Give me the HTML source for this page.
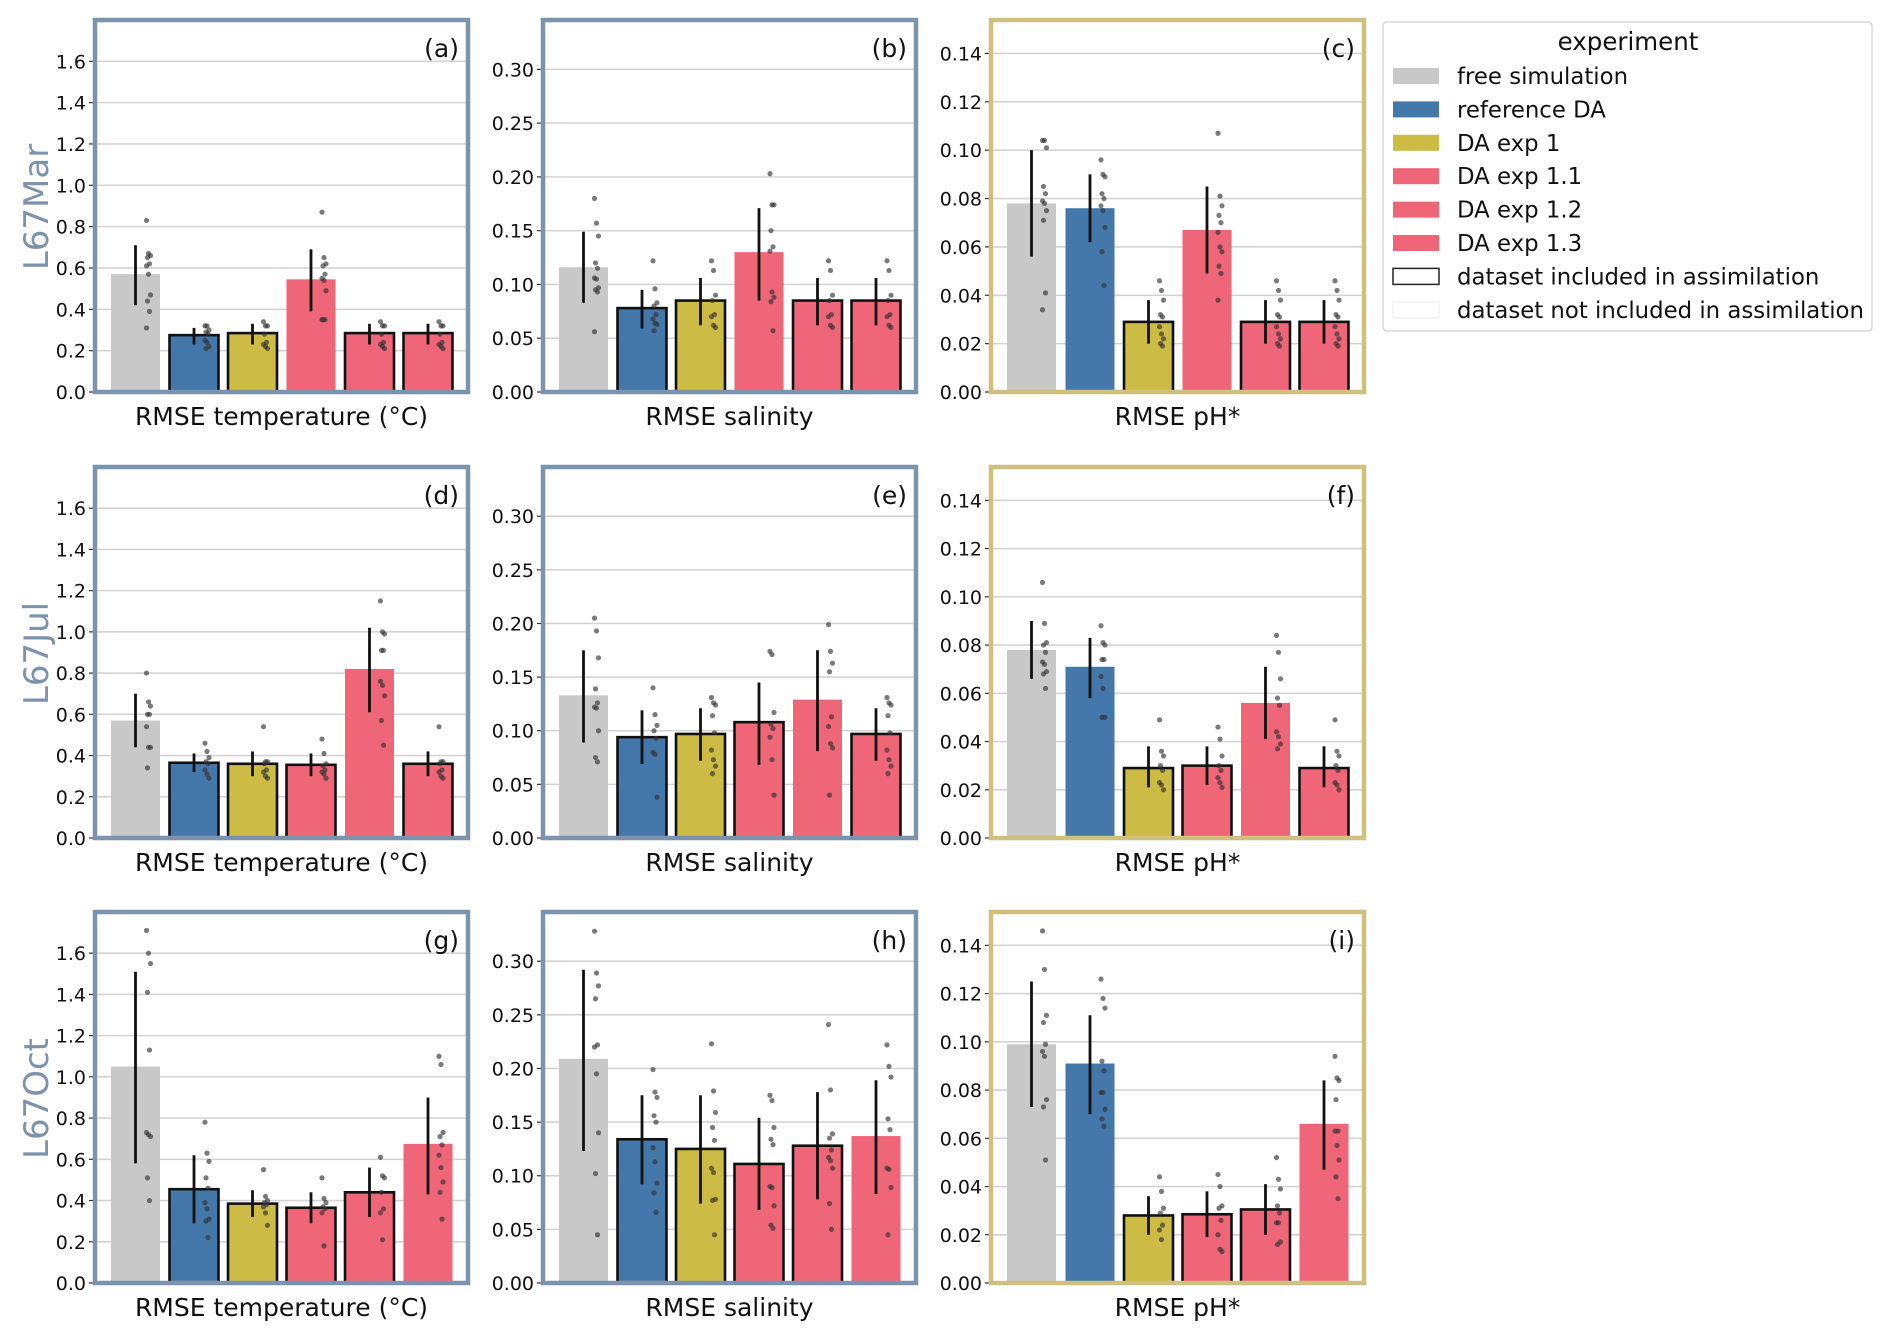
<!DOCTYPE html>
<html><head><meta charset="utf-8">
<style>
html,body{margin:0;padding:0;background:#fff;}
svg{display:block;font-family:"DejaVu Sans","Liberation Sans",sans-serif;}
</style></head>
<body>
<svg id="chart" width="1892" height="1338" viewBox="0 0 1892 1338" xmlns="http://www.w3.org/2000/svg">
<g id="panels"></g>
<g id="legend">
  <rect x="1383" y="22" width="489" height="309" rx="4" fill="#fff" stroke="#d8d8d8" stroke-width="1.5"/>
  <text x="1628" y="50" font-size="24.5" text-anchor="middle" fill="#111">experiment</text>
</g>
</svg>
<script>
const categories = ["free simulation","reference DA","DA exp 1","DA exp 1.1","DA exp 1.2","DA exp 1.3"];
const colors = ["#c8c8c8","#4477aa","#ccbb44","#ee6677","#ee6677","#ee6677"];
const rowLabels = ["L67Mar","L67Jul","L67Oct"];
const colLabels = ["RMSE temperature (°C)","RMSE salinity","RMSE pH*"];
const panelLetters = ["(a)","(b)","(c)","(d)","(e)","(f)","(g)","(h)","(i)"];
const axisMax = [1.79, 0.344, 0.153];
const tickTemp = [0,0.2,0.4,0.6,0.8,1.0,1.2,1.4,1.6];
const tickSal = [0,0.05,0.10,0.15,0.20,0.25,0.30];
const tickPH = [0,0.02,0.04,0.06,0.08,0.10,0.12,0.14];
const tickDigits = [1,2,2];

const valuesA = [0.57,0.275,0.285,0.545,0.285,0.285];
const valuesB = [0.116,0.078,0.085,0.13,0.085,0.085];
const valuesC = [0.078,0.076,0.029,0.067,0.029,0.029];
const valuesD = [0.57,0.365,0.36,0.355,0.82,0.36];
const valuesE = [0.133,0.094,0.097,0.108,0.129,0.097];
const valuesF = [0.078,0.071,0.029,0.030,0.056,0.029];
const valuesG = [1.05,0.455,0.385,0.365,0.44,0.675];
const valuesH = [0.209,0.134,0.125,0.111,0.128,0.137];
const valuesI = [0.099,0.091,0.028,0.0285,0.0305,0.066];

const errA = [[0.42,0.71],[0.23,0.31],[0.23,0.33],[0.39,0.69],[0.23,0.33],[0.23,0.33]];
const errB = [[0.083,0.149],[0.059,0.095],[0.062,0.106],[0.085,0.171],[0.062,0.106],[0.062,0.106]];
const errC = [[0.056,0.100],[0.062,0.090],[0.020,0.038],[0.049,0.085],[0.020,0.038],[0.020,0.038]];
const errD = [[0.44,0.70],[0.32,0.41],[0.30,0.42],[0.30,0.41],[0.61,1.02],[0.30,0.42]];
const errE = [[0.089,0.175],[0.069,0.119],[0.072,0.121],[0.068,0.145],[0.081,0.175],[0.072,0.121]];
const errF = [[0.066,0.090],[0.058,0.083],[0.021,0.038],[0.022,0.038],[0.041,0.071],[0.021,0.038]];
const errG = [[0.58,1.51],[0.29,0.62],[0.32,0.45],[0.29,0.44],[0.32,0.56],[0.43,0.90]];
const errH = [[0.123,0.292],[0.092,0.175],[0.074,0.175],[0.068,0.154],[0.078,0.178],[0.083,0.189]];
const errI = [[0.073,0.125],[0.070,0.111],[0.020,0.036],[0.019,0.038],[0.020,0.041],[0.047,0.084]];

const dotsA = [[.83,.67,.66,.65,.62,.61,.57,.47,.44,.39,.31],[.32,.32,.30,.29,.28,.25,.24,.22,.21],[.34,.32,.32,.28,.24,.23,.22,.21],[.87,.65,.62,.61,.57,.55,.54,.49,.35,.35,.35],[.34,.32,.32,.28,.24,.23,.22,.21],[.34,.32,.32,.28,.24,.23,.22,.21]];
const dotsB = [[.18,.157,.145,.12,.115,.106,.105,.097,.095,.093,.056],[.122,.096,.083,.08,.072,.068,.064,.063,.057],[.122,.113,.09,.085,.072,.07,.062,.06],[.203,.174,.174,.15,.135,.131,.093,.088,.084,.057],[.122,.113,.09,.085,.072,.07,.062,.06],[.122,.113,.09,.085,.072,.07,.062,.06]];
const dotsC = [[.104,.104,.101,.085,.082,.079,.078,.075,.071,.041,.034],[.096,.09,.089,.082,.080,.077,.075,.068,.058,.044],[.046,.042,.038,.032,.031,.027,.024,.022,.020,.019],[.107,.081,.077,.073,.070,.066,.060,.058,.052,.049,.038],[.046,.042,.038,.032,.031,.027,.024,.022,.020,.019],[.046,.042,.038,.032,.031,.027,.024,.022,.020,.019]];
const dotsD = [[.80,.66,.64,.60,.60,.54,.44,.44,.34],[.46,.42,.39,.37,.36,.33,.31,.29],[.54,.37,.37,.36,.33,.32,.30,.29],[.48,.41,.36,.35,.33,.32,.31,.29],[1.15,1.0,.99,.91,.91,.76,.74,.69,.57,.45],[.54,.37,.37,.36,.33,.32,.30,.29]];
const dotsE = [[.205,.193,.168,.139,.126,.122,.121,.1,.075,.071],[.14,.115,.105,.1,.093,.08,.078,.038],[.131,.126,.124,.114,.098,.082,.073,.067,.06],[.174,.171,.117,.106,.102,.094,.073,.04],[.199,.174,.163,.155,.113,.104,.088,.084,.04],[.131,.126,.124,.114,.098,.082,.073,.067,.06]];
const dotsF = [[.106,.089,.081,.080,.077,.073,.072,.069,.068,.062],[.088,.081,.080,.074,.074,.067,.062,.050,.050],[.049,.036,.034,.030,.028,.023,.022,.020],[.046,.041,.034,.030,.028,.025,.023,.021],[.084,.077,.066,.058,.055,.044,.042,.039,.037],[.049,.036,.034,.030,.028,.023,.022,.020]];
const dotsG = [[1.71,1.60,1.55,1.41,1.13,.73,.72,.71,.51,.40],[.78,.63,.59,.51,.46,.39,.36,.31,.30,.22],[.55,.42,.40,.39,.38,.37,.34,.28],[.51,.41,.39,.37,.36,.34,.18],[.61,.52,.51,.44,.36,.34,.21],[1.1,1.06,.73,.71,.67,.62,.56,.49,.44,.31]];
const dotsH = [[.328,.289,.277,.265,.222,.22,.195,.14,.102,.045],[.199,.178,.173,.156,.15,.126,.113,.093,.084,.066],[.223,.179,.159,.145,.133,.107,.103,.078,.077,.045],[.175,.17,.145,.134,.129,.09,.089,.072,.054,.051],[.241,.18,.139,.135,.124,.117,.114,.107,.074,.05],[.222,.202,.192,.153,.143,.107,.106,.089,.045]];
const dotsI = [[.146,.130,.111,.108,.099,.096,.094,.076,.073,.051],[.126,.118,.114,.092,.088,.079,.079,.072,.068,.065],[.044,.038,.031,.029,.024,.022,.018],[.045,.040,.032,.031,.026,.020,.014,.013],[.052,.043,.039,.032,.029,.025,.025,.017,.016],[.094,.085,.084,.076,.063,.063,.057,.051,.044,.035]];

const includedA = [0,1,1,0,1,1], includedB = [0,1,1,0,1,1], includedC = [0,0,1,0,1,1];
const includedD = [0,1,1,1,0,1], includedE = [0,1,1,1,0,1], includedF = [0,0,1,1,0,1];
const includedG = [0,1,1,1,1,0], includedH = [0,1,1,1,1,0], includedI = [0,0,1,1,1,0];

const allValues = [valuesA,valuesB,valuesC,valuesD,valuesE,valuesF,valuesG,valuesH,valuesI];
const allErr = [errA,errB,errC,errD,errE,errF,errG,errH,errI];
const allDots = [dotsA,dotsB,dotsC,dotsD,dotsE,dotsF,dotsG,dotsH,dotsI];
const allIncl = [includedA,includedB,includedC,includedD,includedE,includedF,includedG,includedH,includedI];
const allTicks = [tickTemp,tickSal,tickPH];

const NS = "http://www.w3.org/2000/svg";
function mk(tag, attrs, parent){
  const e = document.createElementNS(NS, tag);
  for (const k in attrs) e.setAttribute(k, attrs[k]);
  parent.appendChild(e); return e;
}
const colX = [95, 543, 991], panelW = 373;
const rowY = [22, 469, 914], zeroY = [392, 838, 1283];
const frameColors = ["#7b93ad","#7b93ad","#cfc07e"];
const panelsG = document.getElementById("panels");

for (let r = 0; r < 3; r++) {
  const rl = mk("text", {x:0, y:0, "font-size":34, fill:"#7b93ad", "text-anchor":"middle",
    transform:`translate(48,${(rowY[r]+zeroY[r])/2}) rotate(-90)`}, panelsG);
  
  
  rl.textContent = rowLabels[r];
  for (let c = 0; c < 3; c++) {
    const p = r*3 + c;
    const g = mk("g", {}, panelsG);
    
    
    const L = colX[c], T = rowY[r], B = zeroY[r], R = L + panelW;
    const ymax = axisMax[c];
    const yS = v => B - v / ymax * (B - T);
    const xC = i => L + 40.5 + 58.5 * i;
    for (const t of allTicks[c]) {
      const y = yS(t);
      if (t > 0) {
        const gl = mk("line", {x1:L, x2:R, y1:y, y2:y, stroke:"#d4d4d4", "stroke-width":1.6}, g);
        
        
      }
      mk("line", {x1:L-6, x2:L, y1:y, y2:y, stroke:"#333", "stroke-width":1.2}, g);
      const tl = mk("text", {x:L-9, y:y+7, "font-size":19, "text-anchor":"end", fill:"#111"}, g);
      
      
      tl.textContent = t.toFixed(tickDigits[c]);
    }
    for (let i = 0; i < 6; i++) {
      const v = allValues[p][i];
      const inc = allIncl[p][i];
      const bw = 49;
      const b = mk("rect", {x:xC(i)-bw/2, y:yS(v), width:bw, height:B-yS(v), fill:colors[i],
        stroke: inc ? "#111" : "none", "stroke-width": inc ? 2.6 : 0}, g);
      
      
    }
    for (let i = 0; i < 6; i++) {
      const ds = allDots[p][i];
      for (let j = 0; j < ds.length; j++) {
        const dx = 11 + ((j * 7) % 5);
        const d = mk("circle", {cx:xC(i)+dx, cy:yS(ds[j]), r:2.6, fill:"#333", "fill-opacity":0.65}, g);
        
        
      }
    }
    for (let i = 0; i < 6; i++) {
      const e = allErr[p][i];
      const el = mk("line", {x1:xC(i), x2:xC(i), y1:yS(e[0]), y2:yS(e[1]), stroke:"#111", "stroke-width":2.8}, g);
      
      
    }
    const fr = mk("rect", {x:L, y:T-2, width:panelW, height:B-T+2, fill:"none", stroke:frameColors[c], "stroke-width":4.5}, g);
    
    
    const pl = mk("text", {x:R-9, y:T+35, "font-size":25, "text-anchor":"end", fill:"#111"}, g);
    
    
    pl.textContent = panelLetters[p];
    const xl = mk("text", {x:L+panelW/2, y:B+33, "font-size":25, "text-anchor":"middle", fill:"#111"}, g);
    
    
    xl.textContent = colLabels[c];
  }
}

const legendG = document.getElementById("legend");
const legendLabels = categories.concat(["dataset included in assimilation","dataset not included in assimilation"]);
for (let k = 0; k < legendLabels.length; k++) {
  const y = 76 + 33.4 * k;
  let fill = k < 6 ? colors[k] : "#fff";
  const sw = mk("rect", {x:1393, y:y-8, width:46, height:16, fill:fill,
    stroke: k === 6 ? "#222" : (k === 7 ? "#f2f2f2" : "none"), "stroke-width": k >= 6 ? 1.5 : 0}, legendG);
  
  
  const t = mk("text", {x:1457, y:y+8, "font-size":22.8, fill:"#111"}, legendG);
  
  
  t.textContent = legendLabels[k];
}
</script>
</body></html>
